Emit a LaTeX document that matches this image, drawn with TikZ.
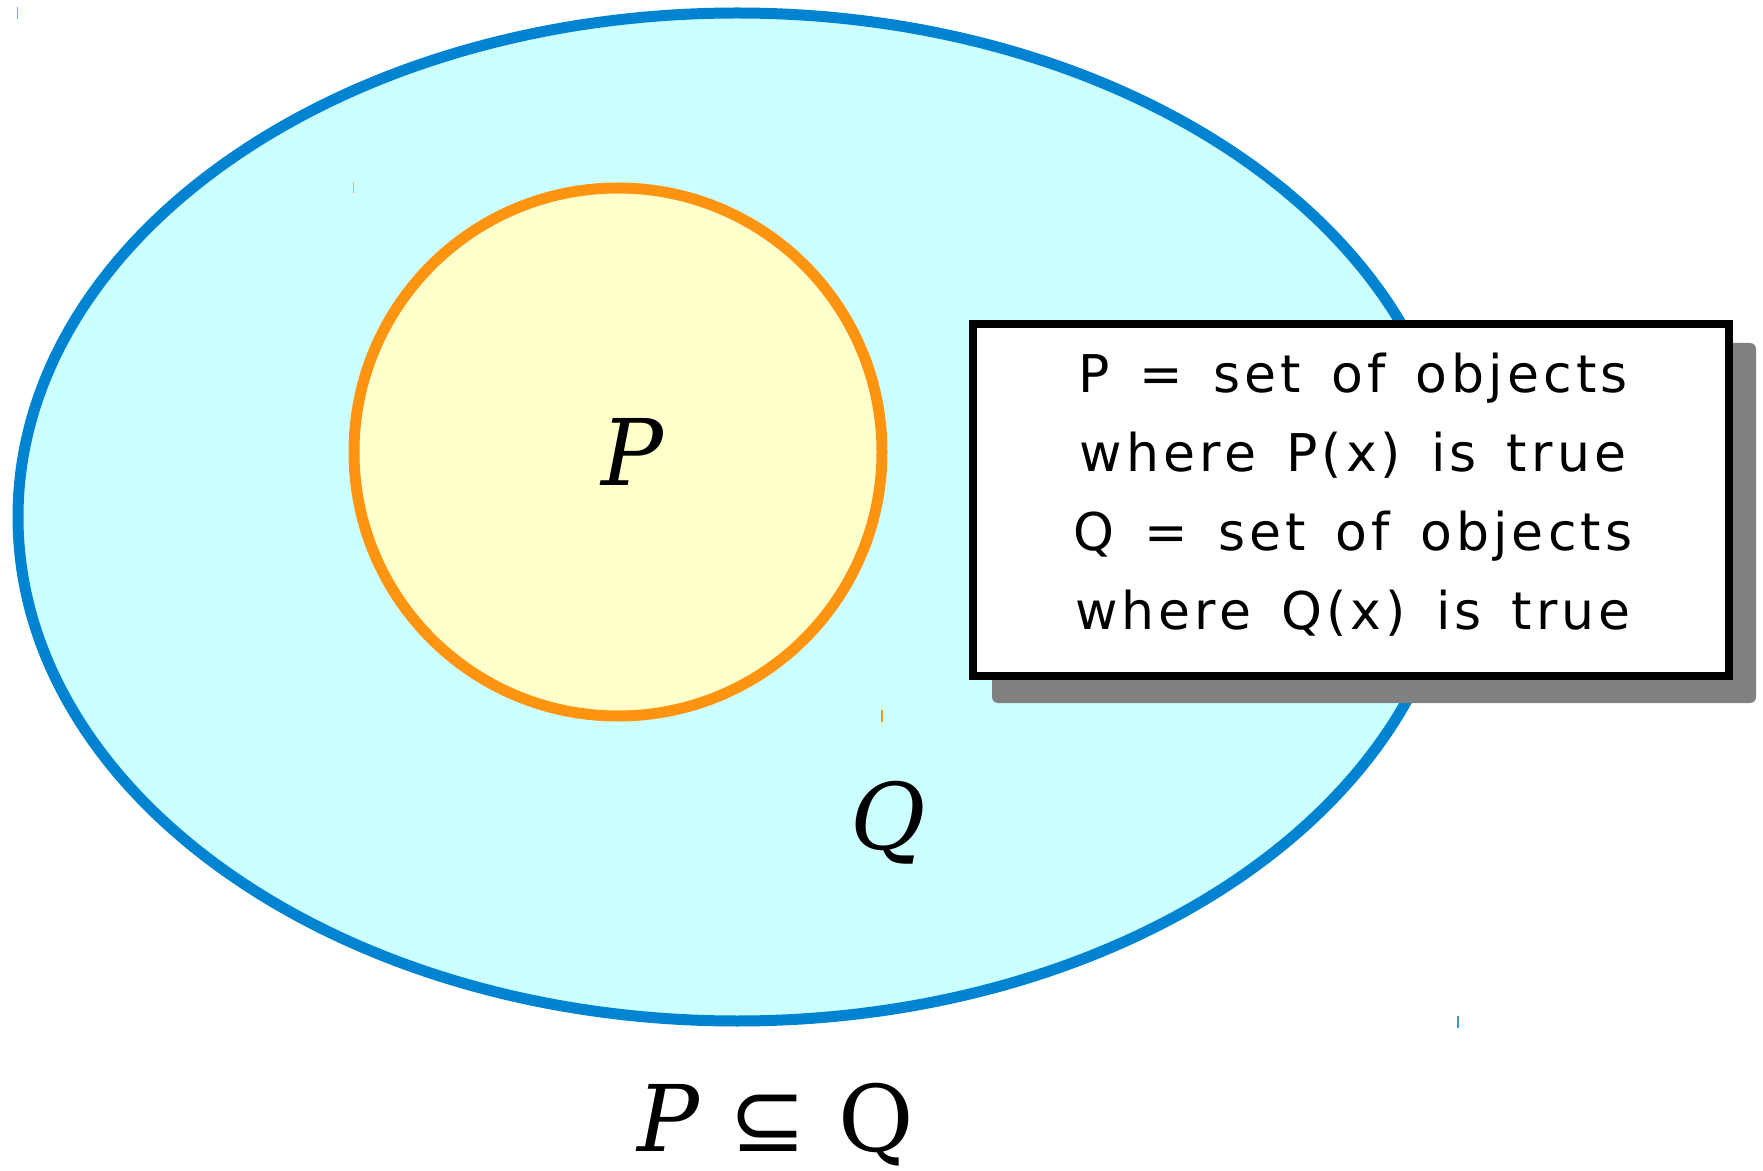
\documentclass[tikz,border=0pt]{standalone}
\usepackage{fontspec}
\setmainfont{DejaVu Serif}
\newfontfamily\handfont[LetterSpace=8,WordSpace=1.45]{DejaVu Sans}
\newfontfamily\symbfont{DejaVu Sans}
\definecolor{qfill}{HTML}{CCFFFF}
\definecolor{qline}{HTML}{0084D1}
\definecolor{pfill}{HTML}{FFFFCC}
\definecolor{pline}{HTML}{FF9410}
\definecolor{shadowgray}{HTML}{808080}
\tikzset{
  setQ/.style={fill=qfill,draw=qline,line width=5.5pt},
  setP/.style={fill=pfill,draw=pline,line width=5.5pt},
  setname/.style={font=\fontsize{46}{50}\selectfont,anchor=base},
  notebox/.style={draw=black,fill=white,line width=4pt,minimum width=378pt,minimum height=176pt},
  notetext/.style={font=\handfont\fontsize{26}{30}\selectfont,anchor=base},
  bboxmark/.style={line width=0.8pt}
}
\begin{document}
\begin{tikzpicture}[x=0.5pt,y=-0.5pt,
 every node/.style={inner sep=0pt,outer sep=0pt}]
  \useasboundingbox (0,0) rectangle (1763,1171);
  % the two sets
  \draw[setQ] (737,517) ellipse [x radius=719, y radius=504];
  \draw[setP] (618,452) circle [radius=264];
  % corner marks
  \draw[bboxmark,qline!65] (17.5,7)--(17.5,19);
  \draw[bboxmark,pline!75] (353.5,182)--(353.5,193);
  \draw[bboxmark,pline] (882,710)--(882,722);
  \draw[bboxmark,qline!80] (1458,1016)--(1458,1028);
  \node[setname] (nameP) at (632,486) {\itshape P};
  \node[setname] (nameQ) at (888,849) {\itshape Q};
  % note with shadow
  \fill[shadowgray,rounded corners=3] (992,343) rectangle (1756,703);
  \node[notebox] (note) at (1351,500) {};
  \foreach \txt [count=\i] in {P = set of objects,where P(x) is true,Q = set of objects,where Q(x) is true}
    \node[notetext] (line\i) at (1353,314+79*\i) {\txt};
  % relation
  \node[setname] (rel) at (776,1151) {{\itshape P}\hspace{15pt}{\symbfont ⊆}\hspace{16pt}Q};
\end{tikzpicture}
\end{document}
